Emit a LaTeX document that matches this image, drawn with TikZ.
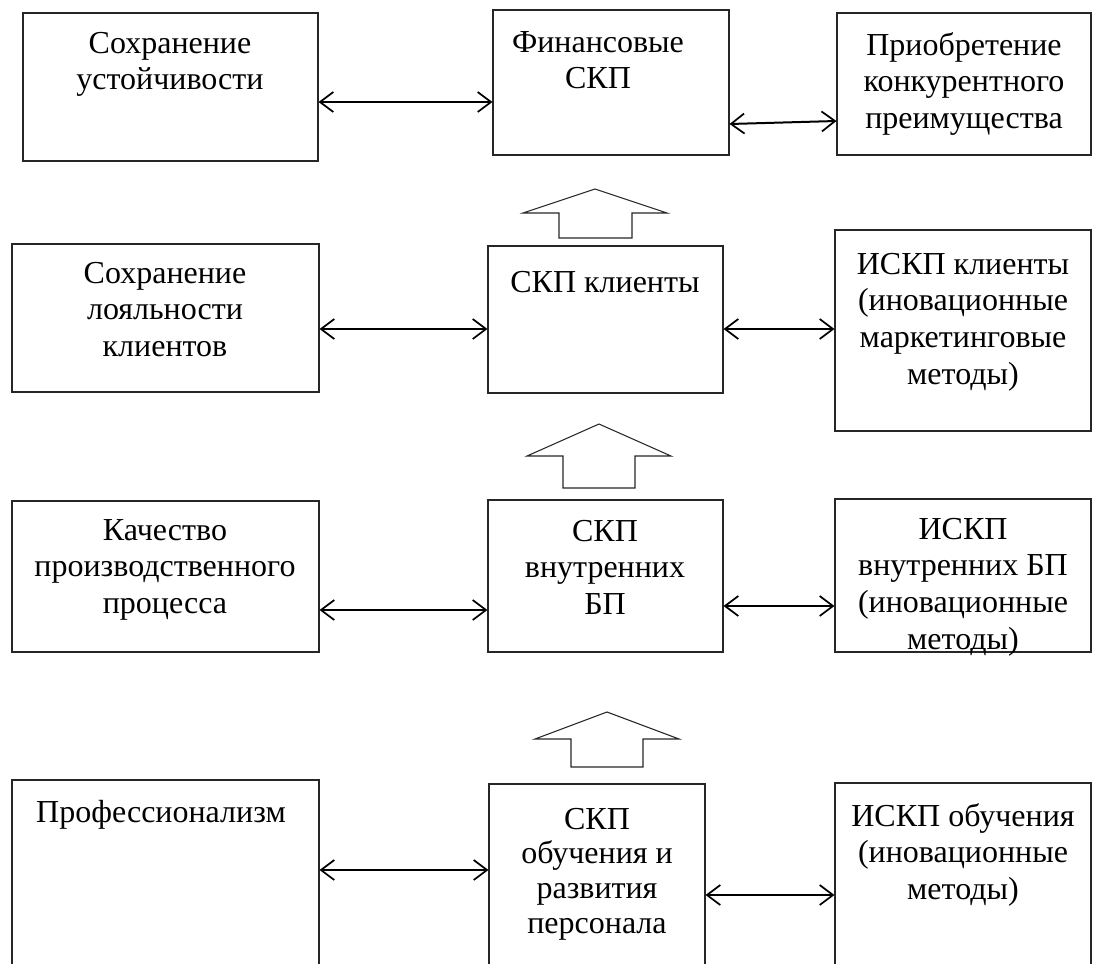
\documentclass[tikz,border=0pt]{standalone}
\usepackage{fontspec}
\setmainfont{Liberation Serif}
\usetikzlibrary{arrows.meta,fit}
\newcommand{\tl}[1]{\parbox[t]{330pt}{\centering\fontsize{24}{27.6}\selectfont #1}}
\newcommand{\tlc}[1]{\parbox[t]{330pt}{\centering\fontsize{24}{26}\selectfont #1}}
\tikzset{
  bx/.style={draw=black!85, line width=0.8pt, inner sep=0pt},
  txt/.style={anchor=base, inner sep=0pt, outer sep=0pt},
  dbl/.style={line width=1.5pt, {Straight Barb[length=10pt,width=15pt,line width=1.3pt]}-{Straight Barb[length=10pt,width=15pt,line width=1.3pt]}},
  blk/.style={draw=black!85, line width=0.8pt, line join=miter}
}
\begin{document}
\begin{tikzpicture}[x=0.75pt,y=-0.75pt]
\useasboundingbox (0,0) rectangle (1093,964);
\clip (0,0) rectangle (1093,964);
% boxes
\node[bx, fit={(23,13) (318,161)}] (L1) {};
\node[bx, fit={(493,10) (729,155)}] (M1) {};
\node[bx, fit={(837,13) (1091,155)}] (R1) {};
\node[bx, fit={(12,244) (319,392)}] (L2) {};
\node[bx, fit={(488,246) (723,393)}] (M2) {};
\node[bx, fit={(835,230) (1091,431)}] (R2) {};
\node[bx, fit={(12,501) (319,652)}] (L3) {};
\node[bx, fit={(488,500) (723,652)}] (M3) {};
\node[bx, fit={(835,499) (1091,652)}] (R3) {};
\node[bx, fit={(12,780) (319,1000)}] (L4) {};
\node[bx, fit={(489,784) (705,1000)}] (M4) {};
\node[bx, fit={(835,783) (1091,1000)}] (R4) {};
% texts
\node[txt] (t1l) at (170,53) {\tl{Сохранение\\устойчивости}};
\node[txt] (t1m) at (598,52) {\tl{Финансовые\\СКП}};
\node[txt] (t1r) at (964,55) {\tl{Приобретение\\конкурентного\\преимущества}};
\node[txt] (t2l) at (165,283) {\tl{Сохранение\\лояльности\\клиентов}};
\node[txt] (t2m) at (605,292) {\tl{СКП клиенты}};
\node[txt] (t2r) at (963,274) {\tl{ИСКП клиенты\\(иновационные\\маркетинговые\\методы)}};
\node[txt] (t3l) at (165,540) {\tl{Качество\\производственного\\процесса}};
\node[txt] (t3m) at (605,541) {\tl{СКП\\внутренних\\БП}};
\node[txt] (t3r) at (963,539) {\tl{ИСКП\\внутренних БП\\(иновационные\\методы)}};
\node[txt] (t4l) at (161,822) {\tl{Профессионализм}};
\node[txt] (t4m) at (597,829) {\tlc{СКП\\обучения и\\развития\\персонала}};
\node[txt] (t4r) at (963,826) {\tl{ИСКП обучения\\(иновационные\\методы)}};
% double arrows
\draw[dbl] (L1.east |- 0,102) -- (M1.west |- 0,102);
\draw[dbl] (M1.east |- 0,124) -- (R1.west |- 0,121);
\draw[dbl] (L2.east |- 0,329) -- (M2.west |- 0,329);
\draw[dbl] (M2.east |- 0,329) -- (R2.west |- 0,329);
\draw[dbl] (L3.east |- 0,610) -- (M3.west |- 0,610);
\draw[dbl] (M3.east |- 0,606) -- (R3.west |- 0,606);
\draw[dbl] (L4.east |- 0,870) -- (M4.west |- 0,870);
\draw[dbl] (M4.east |- 0,895) -- (R4.west |- 0,895);
% block arrows
\draw[blk] (595,189) -- (667,213) -- (632,213) -- (632,238) -- (559,238) -- (559,213) -- (523,213) -- cycle;
\draw[blk] (599,424) -- (671,456) -- (635,456) -- (635,488) -- (563,488) -- (563,456) -- (527,456) -- cycle;
\draw[blk] (607,712) -- (679,739) -- (643,739) -- (643,767) -- (571,767) -- (571,739) -- (535,739) -- cycle;
\end{tikzpicture}
\end{document}
